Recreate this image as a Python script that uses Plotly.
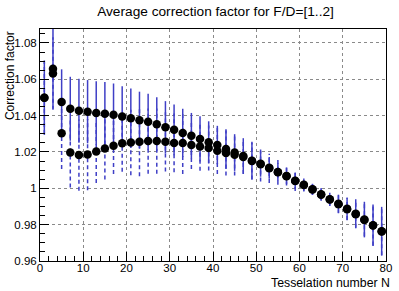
import plotly.graph_objects as go

# ---- data ----
N = [1, 3, 5, 7, 9, 11, 13, 15, 17, 19, 21, 23, 25, 27, 29, 31, 33, 35, 37, 39,
     41, 43, 45, 47, 49, 51, 53, 55, 57, 59, 61, 63, 65, 67, 69, 71, 73, 75, 77, 79]

upper_val = [1.0499, 1.0658, 1.0475, 1.0438, 1.0427, 1.0422, 1.0415, 1.0411, 1.0405, 1.0396,
             1.0386, 1.0375, 1.0366, 1.0353, 1.0336, 1.0322, 1.0305, 1.0290, 1.0272, 1.0254,
             1.0238, 1.0216, 1.0197, 1.0178, 1.0152, 1.0135, 1.0113, 1.0090, 1.0068, 1.0042,
             1.0020, 0.9995, 0.9967, 0.9940, 0.9915, 0.9887, 0.9860, 0.9828, 0.9797, 0.9764]
upper_err = [0.0205, 0.0220, 0.0180, 0.0176, 0.0176, 0.0174, 0.0175, 0.0174, 0.0172, 0.0166,
             0.0164, 0.0157, 0.0154, 0.0149, 0.0144, 0.0140, 0.0133, 0.0125, 0.0125, 0.0115,
             0.0106, 0.0109, 0.0101, 0.0098, 0.0104, 0.0071, 0.0060, 0.0050, 0.0045, 0.0045,
             0.0034, 0.0030, 0.0035, 0.0035, 0.0050, 0.0063, 0.0080, 0.0098, 0.0114, 0.0134]

lower_val = [1.0499, 1.0632, 1.0303, 1.0197, 1.0183, 1.0186, 1.0203, 1.0219, 1.0234, 1.0248,
             1.0252, 1.0256, 1.0260, 1.0260, 1.0256, 1.0250, 1.0249, 1.0238, 1.0230, 1.0222,
             1.0207, 1.0194, 1.0185, 1.0172, 1.0150, 1.0133, 1.0110, 1.0088, 1.0066, 1.0040,
             1.0018, 0.9993, 0.9965, 0.9938, 0.9913, 0.9885, 0.9858, 0.9826, 0.9795, 0.9762]
lower_err = [0.0200, 0.0200, 0.0197, 0.0192, 0.0196, 0.0196, 0.0173, 0.0171, 0.0155, 0.0157,
             0.0180, 0.0190, 0.0180, 0.0180, 0.0163, 0.0162, 0.0170, 0.0132, 0.0133, 0.0124,
             0.0128, 0.0124, 0.0115, 0.0093, 0.0101, 0.0095, 0.0080, 0.0068, 0.0050, 0.0055,
             0.0035, 0.0030, 0.0030, 0.0035, 0.0050, 0.0060, 0.0075, 0.0090, 0.0110, 0.0130]

title_text = "Average correction factor for F/D=[1..2]"
x_title = "Tesselation number N"
y_title = "Correction factor"
x_range = [0, 80]
y_range = [0.96, 1.0877]
x_ticks = [0, 10, 20, 30, 40, 50, 60, 70, 80]
y_ticks = [0.96, 0.98, 1.0, 1.02, 1.04, 1.06, 1.08]
y_tick_text = ["0.96", "0.98", "1", "1.02", "1.04", "1.06", "1.08"]

FONT = "Liberation Sans, Arial, Helvetica, sans-serif"
BAR = "#3f3fc6"

fig = go.Figure()

# dashed error bars of the lower series (built from the data arrays)
dx, dy = [], []
for n, v, e in zip(N, lower_val, lower_err):
    dx += [n, n, None]
    dy += [v - e, v + e, None]
fig.add_trace(go.Scatter(x=dx, y=dy, mode="lines",
                         line=dict(color=BAR, width=1.5, dash="4px,3px"),
                         hoverinfo="skip", showlegend=False))

# upper series with solid error bars
fig.add_trace(go.Scatter(x=N, y=upper_val, mode="markers",
                         marker=dict(color="black", size=8.5, symbol="circle"),
                         error_y=dict(type="data", array=upper_err, visible=True,
                                      color=BAR, thickness=1.5, width=0),
                         showlegend=False))

# lower series markers
fig.add_trace(go.Scatter(x=N, y=lower_val, mode="markers",
                         marker=dict(color="black", size=8.5, symbol="circle"),
                         showlegend=False))

axis_common = dict(showline=True, linecolor="black", linewidth=1, mirror=True,
                   ticks="inside", tickcolor="black", ticklen=9,
                   showgrid=True, gridcolor="#8a8a8a", griddash="dot", gridwidth=1,
                   zeroline=False,
                   tickfont=dict(family=FONT, size=11.5, color="black"))

fig.update_xaxes(range=x_range, tickvals=x_ticks, ticklabelstandoff=-4, **axis_common,
                 minor=dict(dtick=2, ticklen=5, ticks="inside", tickcolor="black",
                            showgrid=False))
fig.update_yaxes(range=y_range, tickvals=y_ticks, ticktext=y_tick_text, **axis_common,
                 minor=dict(dtick=0.005, tick0=0.96, ticklen=5, ticks="inside",
                            tickcolor="black", showgrid=False))

fig.update_layout(
    width=399, height=291,
    margin=dict(l=40, r=7, t=29, b=30),
    paper_bgcolor="white", plot_bgcolor="white",
    font=dict(family=FONT, color="black"),
    title=dict(text=title_text, x=215.5 / 399, xanchor="center",
               y=1 - 11.5 / 291, yanchor="middle",
               font=dict(family=FONT, size=13.7, color="black")),
    annotations=[
        dict(text=x_title, xref="paper", yref="paper", x=1.017, y=-0.095,
             xanchor="right", yanchor="middle", showarrow=False,
             font=dict(family=FONT, size=12.3, color="black")),
        dict(text=y_title, xref="paper", yref="paper", x=-0.088, y=1.0,
             xanchor="center", yanchor="top", textangle=-90, showarrow=False,
             font=dict(family=FONT, size=12, color="black")),
    ],
)

fig.write_html("out.html", config={"displayModeBar": False},
               post_script="document.body.style.margin='0';document.body.style.overflow='hidden';")
